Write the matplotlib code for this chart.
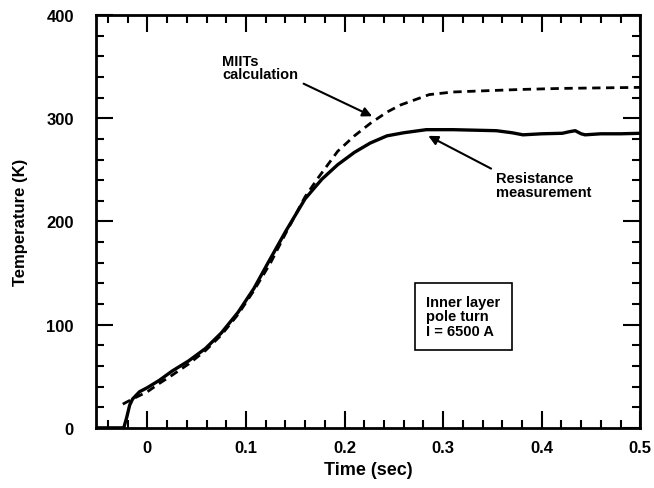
import matplotlib
matplotlib.use("Agg")
import matplotlib.pyplot as plt
from matplotlib.ticker import MultipleLocator

# Data
t_meas = [-0.05, -0.024, -0.021, -0.018, -0.015, -0.008, 0.0, 0.012, 0.025, 0.042,
          0.059, 0.075, 0.092, 0.108, 0.123, 0.14, 0.16, 0.177, 0.193, 0.21,
          0.226, 0.243, 0.26, 0.283, 0.31, 0.354, 0.37, 0.381, 0.40, 0.421,
          0.428, 0.434, 0.44, 0.444, 0.46, 0.48, 0.5]
T_meas = [0, 0, 10, 22, 28, 35, 39, 46, 55, 65,
          77, 92, 112, 135, 161, 190, 222, 241, 255, 267,
          276, 283, 286, 289, 289, 288, 286, 284, 285, 285.5,
          287, 288, 285, 284, 285, 285, 285.5]

t_calc = [-0.025, -0.015, 0.0, 0.012, 0.025, 0.042, 0.059, 0.075, 0.092, 0.108,
          0.125, 0.14, 0.16, 0.173, 0.193, 0.21, 0.226, 0.243, 0.257, 0.286,
          0.31, 0.337, 0.38, 0.421, 0.5]
T_calc = [23, 28, 35, 43, 51, 62, 75, 90, 110, 133,
          160, 188, 224, 242, 268, 283, 295, 306, 313, 323,
          325.5, 326.5, 328, 329, 330]

x_ticks = [0, 0.1, 0.2, 0.3, 0.4, 0.5]
x_labels = ["0", "0.1", "0.2", "0.3", "0.4", "0.5"]
y_ticks = [0, 100, 200, 300, 400]
y_labels = ["0", "100", "200", "300", "400"]

plt.rcParams['font.family'] = ['Liberation Sans', 'DejaVu Sans']
plt.rcParams['font.weight'] = 'bold'

fig = plt.figure(figsize=(6.54, 4.89), dpi=100)
ax = fig.add_axes([0.147, 0.123, 0.832, 0.844])

ax.plot(t_meas, T_meas, color='black', lw=2.4, solid_joinstyle='round')
ax.plot(t_calc, T_calc, color='black', lw=2.0, linestyle=(0, (3, 2)))

ax.set_xlim(-0.052, 0.5)
ax.set_ylim(0, 400)
ax.set_xticks(x_ticks)
ax.set_xticklabels(x_labels)
ax.set_yticks(y_ticks)
ax.set_yticklabels(y_labels)
ax.xaxis.set_minor_locator(MultipleLocator(0.02))
ax.yaxis.set_minor_locator(MultipleLocator(20))
ax.tick_params(which='both', direction='in', top=True, right=True, width=1.5,
               labelsize=12)
ax.tick_params(axis='y', pad=16)
ax.tick_params(axis='x', pad=9)
ax.tick_params(which='major', length=12)
ax.tick_params(which='minor', length=6)
for s in ax.spines.values():
    s.set_linewidth(2)

ax.set_xlabel("Time (sec)", fontsize=13, fontweight='bold', labelpad=4)
ax.set_ylabel("Temperature (K)", fontsize=12, fontweight='bold', labelpad=13)

ax.annotate("MIITs\ncalculation", xy=(0.228, 302), xytext=(0.076, 336),
            fontsize=10.5, fontweight='bold', ha='left', va='bottom',
            linespacing=0.95,
            arrowprops=dict(arrowstyle='-|>', color='black', lw=1.5,
                            mutation_scale=14, shrinkA=2, shrinkB=0,
                            relpos=(1.0, 0.0)))
ax.annotate("Resistance\nmeasurement", xy=(0.285, 283), xytext=(0.354, 222),
            fontsize=10.5, fontweight='bold', ha='left', va='bottom',
            linespacing=0.95,
            arrowprops=dict(arrowstyle='-|>', color='black', lw=1.5,
                            mutation_scale=14, shrinkA=2, shrinkB=0,
                            relpos=(0.0, 1.0)))

ax.text(0.283, 108, "Inner layer\npole turn\nI = 6500 A", fontsize=10.5,
        fontweight='bold', ha='left', va='center', linespacing=1.05,
        bbox=dict(boxstyle='square,pad=0.8', fc='white', ec='black', lw=1.2))

fig.savefig("out.png", dpi=100)
